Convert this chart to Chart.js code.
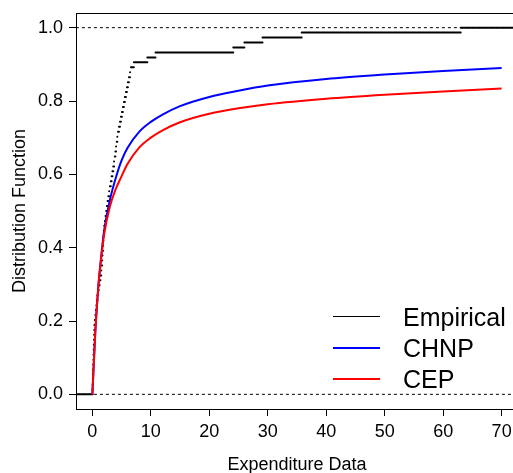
<!DOCTYPE html>
<html>
<head>
<meta charset="utf-8">
<script src="https://cdn.jsdelivr.net/npm/chart.js@4.4.1/dist/chart.umd.min.js"></script>
<style>
    html, body { margin: 0; padding: 0; background: #fff; overflow: hidden; }
</style>
</head>
<body>
<canvas id="myChart" width="518" height="473"></canvas>
<script>
const expenditure = [
    0.02, 0.05, 0.07, 0.10, 0.12, 0.14, 0.17, 0.19, 0.22, 0.24,
    0.27, 0.29, 0.32, 0.34, 0.42, 0.51, 0.60, 0.68, 0.77, 0.86,
    0.96, 1.10, 1.24, 1.38, 1.52, 1.62, 1.68, 1.73, 1.78, 1.83,
    1.88, 1.93, 1.98, 2.03, 2.13, 2.25, 2.36, 2.48, 2.60, 2.73,
    2.87, 3.00, 3.15, 3.29, 3.43, 3.57, 3.71, 3.83, 3.94, 4.05,
    4.16, 4.27, 4.38, 4.55, 4.72, 4.89, 5.05, 5.22, 5.39, 5.56,
    5.74, 5.91, 6.08, 6.25, 6.44, 6.60, 7.10, 9.40, 10.80, 24.10,
    26.00, 29.10, 35.80, 63.00
];

// fitted distribution functions, sampled at these x values
const curveX = [0, 0.5, 1, 1.5, 2, 3, 4, 5, 6, 8, 10, 12, 15, 20, 25, 30, 40, 50, 60, 70];
const chnpValues = [0, 0.17, 0.29, 0.375, 0.445, 0.53, 0.59, 0.638, 0.672, 0.716, 0.743, 0.763, 0.786, 0.811, 0.828, 0.842, 0.860, 0.872, 0.882, 0.890];
const cepValues = [0, 0.17, 0.29, 0.37, 0.435, 0.512, 0.56, 0.595, 0.628, 0.673, 0.70, 0.72, 0.742, 0.765, 0.78, 0.791, 0.806, 0.817, 0.826, 0.834];

const xTicks = [0, 10, 20, 30, 40, 50, 60, 70];
const yTicks = [0, 0.2, 0.4, 0.6, 0.8, 1.0];
const seriesNames = ['Empirical', 'CHNP', 'CEP'];
const seriesColors = ['#000000', '#0000ff', '#ff0000'];

const fontFamily = "'Liberation Sans', Arial, sans-serif";

// ecdf drawn as horizontal pieces only (no verticals), broken with null points
const ecdfSegments = [];
const n = expenditure.length;
for (let i = 0; i <= n; i++) {
    const from = i === 0 ? -10 : expenditure[i - 1];
    const to = i === n ? 100 : expenditure[i];
    ecdfSegments.push({ x: from, y: i / n }, { x: to, y: i / n }, { x: to, y: null });
}

const toPoints = (values) => curveX.map((x, i) => ({ x: x, y: values[i] }));

// top / right side of the plot box
const boxPlugin = {
    id: 'plotBox',
    afterDraw(chart) {
        const { ctx, chartArea } = chart;
        ctx.save();
        ctx.strokeStyle = '#000';
        ctx.lineWidth = 1;
        ctx.beginPath();
        ctx.moveTo(chartArea.left, chartArea.top + 0.5);
        ctx.lineTo(chartArea.right, chartArea.top + 0.5);
        ctx.lineTo(chartArea.right - 0.5, chartArea.bottom);
        ctx.stroke();
        ctx.restore();
    }
};

// legend in the lower right corner, no frame
const legendPlugin = {
    id: 'cornerLegend',
    afterDraw(chart) {
        const ctx = chart.ctx;
        const widths = [1, 2, 2];
        ctx.save();
        ctx.font = '25px ' + fontFamily;
        ctx.textBaseline = 'alphabetic';
        ctx.textAlign = 'left';
        seriesNames.forEach((name, i) => {
            const y = 317 + i * 31;
            const lineY = widths[i] === 1 ? y - 0.5 : y;
            ctx.strokeStyle = seriesColors[i];
            ctx.lineWidth = widths[i];
            ctx.beginPath();
            ctx.moveTo(333, lineY);
            ctx.lineTo(380, lineY);
            ctx.stroke();
            ctx.fillStyle = '#000';
            ctx.fillText(name, 403, y + 9);
        });
        ctx.restore();
    }
};

const data = {
    datasets: [
        {
            label: 'Empirical',
            data: ecdfSegments,
            borderColor: seriesColors[0],
            borderWidth: 2,
            borderCapStyle: 'round',
            spanGaps: false,
            pointRadius: 0,
            order: 2
        },
        {
            label: 'CHNP',
            data: toPoints(chnpValues),
            borderColor: seriesColors[1],
            borderWidth: 2,
            cubicInterpolationMode: 'monotone',
            pointRadius: 0,
            order: 1
        },
        {
            label: 'CEP',
            data: toPoints(cepValues),
            borderColor: seriesColors[2],
            borderWidth: 2,
            cubicInterpolationMode: 'monotone',
            pointRadius: 0,
            order: 0
        },
        {
            label: 'zero',
            data: [{ x: -10, y: 0 }, { x: 100, y: 0 }],
            borderColor: '#000',
            borderWidth: 1,
            borderDash: [3, 3],
            pointRadius: 0,
            order: 3
        },
        {
            label: 'one',
            data: [{ x: -10, y: 1 }, { x: 100, y: 1 }],
            borderColor: '#000',
            borderWidth: 1,
            borderDash: [3, 3],
            pointRadius: 0,
            order: 3
        }
    ]
};

const tickFont = { family: fontFamily, size: 18 };

const config = {
    type: 'line',
    data: data,
    options: {
        responsive: false,
        animation: false,
        devicePixelRatio: 1,
        layout: { padding: { top: 13, left: 0, right: 0, bottom: 0 } },
        plugins: {
            legend: { display: false },
            tooltip: { enabled: false }
        },
        scales: {
            x: {
                type: 'linear',
                min: -2.8,
                max: 72.8,
                afterBuildTicks: (scale) => { scale.ticks = xTicks.map(v => ({ value: v })); },
                afterFit: (scale) => {
                    scale.height = 64;
                    scale.paddingLeft = 0;
                    scale.paddingRight = 0;
                },
                grid: { drawOnChartArea: false, drawTicks: true, tickLength: 7, color: '#000' },
                border: { display: true, color: '#000', width: 1 },
                ticks: {
                    color: '#000',
                    font: tickFont,
                    padding: 5,
                    maxRotation: 0,
                    autoSkip: false,
                    callback: (v) => String(v)
                },
                title: {
                    display: true,
                    text: 'Expenditure Data',
                    color: '#000',
                    font: tickFont,
                    padding: { top: 0, bottom: -3 }
                }
            },
            y: {
                type: 'linear',
                min: -0.04,
                max: 1.04,
                afterBuildTicks: (scale) => { scale.ticks = yTicks.map(v => ({ value: v })); },
                afterFit: (scale) => {
                    scale.width = 76;
                    scale.paddingTop = 0;
                    scale.paddingBottom = 0;
                },
                grid: { drawOnChartArea: false, drawTicks: true, tickLength: 7, color: '#000' },
                border: { display: true, color: '#000', width: 1 },
                ticks: {
                    color: '#000',
                    font: tickFont,
                    padding: 6,
                    autoSkip: false,
                    callback: (v) => Number(v).toFixed(1)
                },
                title: {
                    display: true,
                    text: 'Distribution Function',
                    color: '#000',
                    font: tickFont,
                    padding: { top: 9, bottom: 0 }
                }
            }
        }
    },
    plugins: [boxPlugin, legendPlugin]
};

const myChart = new Chart(document.getElementById('myChart'), config);
</script>
</body>
</html>
